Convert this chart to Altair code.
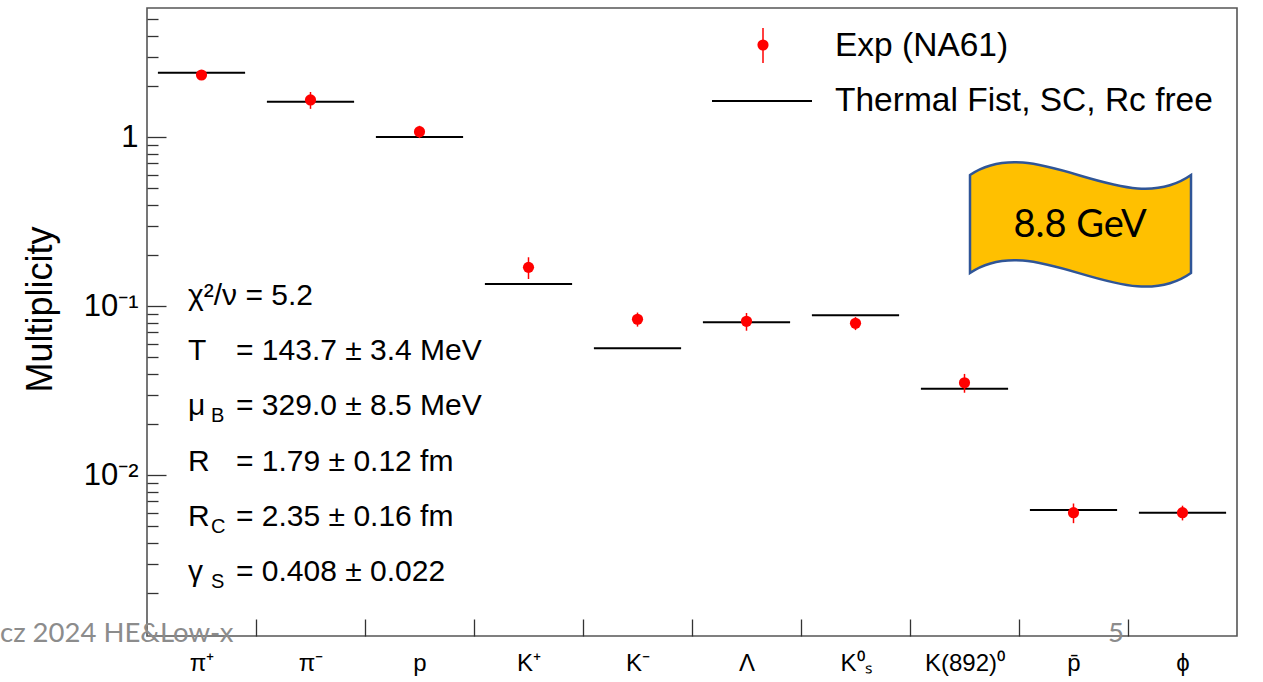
import json
import altair as alt
import pandas as pd

# Hadron multiplicities, NA61 data vs. Thermal-FIST fit (8.8 GeV)
particles = ["π⁺", "π⁻", "p", "K⁺", "K⁻", "Λ", "K⁰ₛ", "K(892)⁰", "p̄", "ϕ"]
exp_values = [2.337, 1.663, 1.079, 0.170, 0.0838, 0.0815, 0.0793, 0.0353, 0.00601, 0.00601]
exp_errors = [0.08, 0.19, 0.09, 0.025, 0.008, 0.0098, 0.007, 0.0045, 0.0008, 0.0006]
fit_values = [2.41, 1.624, 1.004, 0.1355, 0.0564, 0.0805, 0.0885, 0.0325, 0.00623, 0.00601]

legend_labels = ["Exp (NA61)", "Thermal Fist, SC, Rc free"]

stat_heads = ["χ²/ν = 5.2", "T", "μ", "R", "R", "γ"]
stat_subs = ["", "", "B", "", "C", "S"]
stat_tails = ["", "= 143.7 ± 3.4 MeV", "= 329.0 ± 8.5 MeV", "= 1.79 ± 0.12 fm",
              "= 2.35 ± 0.16 fm", "= 0.408 ± 0.022"]

y_major = [0.01, 0.1, 1]
y_minor = [round(m * 10.0 ** k, 6) for k in range(-3, 1) for m in range(2, 10)
           if 0.00112 < m * 10.0 ** k < 5.82]

W, H = 1090, 628
FONT = "Liberation Sans"

df = pd.DataFrame({
    "idx": list(range(len(particles))),
    "name": particles,
    "exp": exp_values,
    "err": exp_errors,
    "fit": fit_values,
})

x_scale = alt.Scale(domain=[0, len(particles)], nice=False, zero=False)
y_scale = alt.Scale(type="log", domain=[0.00112, 5.82], nice=False)

names_js = json.dumps(particles, ensure_ascii=False)

base = alt.Chart(df).transform_calculate(
    xc="datum.idx + 0.5",
    xl="datum.idx + 0.1",
    xh="datum.idx + 0.9",
    lo="datum.exp - datum.err",
    hi="datum.exp + datum.err",
)

# theory lines, carrying the labelled bottom / left axes
fit_lines = base.mark_rule(color="black", strokeWidth=2).encode(
    x=alt.X("xl:Q", scale=x_scale, axis=alt.Axis(
        orient="bottom", values=[i + 0.5 for i in range(len(particles))],
        labelExpr=f"{names_js}[floor(datum.value)]",
        ticks=False, domain=False, grid=False, title=None,
        labelFont=FONT, labelFontSize=24, labelColor="black", labelPadding=15)),
    x2="xh:Q",
    y=alt.Y("fit:Q", scale=y_scale, axis=alt.Axis(
        orient="left", values=y_major,
        labelExpr="datum.value >= 1 ? '1' : (datum.value >= 0.1 ? '10⁻¹' : '10⁻²')",
        ticks=False, domain=False, grid=False,
        labelFont=FONT, labelFontSize=31, labelColor="black", labelPadding=9,
        labelBaseline="middle",
        title="Multiplicity", titleFont=FONT, titleFontSize=36,
        titleFontWeight="normal", titleColor="black", titleAngle=270,
        titleX=-107, titleY=301, titleAlign="center", titleBaseline="middle")),
)

err_bars = base.mark_rule(color="red", strokeWidth=1.5).encode(
    x=alt.X("xc:Q", scale=x_scale, axis=None),
    y=alt.Y("lo:Q", scale=y_scale, axis=None),
    y2="hi:Q",
)

# data points, carrying the inward tick marks (ROOT style)
points = base.mark_circle(color="red", size=125, opacity=1).encode(
    x=alt.X("xc:Q", scale=x_scale, axis=alt.Axis(
        orient="top", offset=-H, values=list(range(1, len(particles))),
        labels=False, domain=False, grid=False, title=None,
        tickSize=17, tickColor="#333", tickWidth=1.3)),
    y=alt.Y("exp:Q", scale=y_scale, axis=alt.Axis(
        orient="right", offset=-W, values=y_major + y_minor,
        labels=False, domain=False, grid=False, title=None,
        tickColor="#333", tickWidth=1.3,
        tickSize={"condition": {"test": "indexof([0.01, 0.1, 1], datum.value) >= 0",
                                "value": 19}, "value": 11})),
)

# legend
leg_df = pd.DataFrame({"label": legend_labels, "row": [0, 1]})
leg_text = alt.Chart(leg_df).transform_calculate(
    py="38 + 55 * datum.row"
).mark_text(align="left", baseline="middle", font=FONT, fontSize=33.5,
            color="black").encode(
    x=alt.value(688), y=alt.Y("py:Q", scale=None, axis=None), text="label:N")
one = pd.DataFrame({"k": [0]})
leg_dot = alt.Chart(one).mark_circle(color="red", size=125, opacity=1).encode(
    x=alt.value(616), y=alt.value(37))
leg_bar = alt.Chart(one).mark_rule(color="red", strokeWidth=1.5).encode(
    x=alt.value(616), y=alt.value(20), y2=alt.value(55))
leg_line = alt.Chart(one).mark_rule(color="black", strokeWidth=2).encode(
    x=alt.value(565), x2=alt.value(665), y=alt.value(93))

# fit parameters
st_df = pd.DataFrame({"head": stat_heads, "sub": stat_subs, "tail": stat_tails,
                      "row": list(range(len(stat_heads)))})
st_base = alt.Chart(st_df).transform_calculate(
    py="288 + 55.2 * datum.row", pys="298 + 55.2 * datum.row")
st_head = st_base.mark_text(align="left", baseline="middle", font=FONT,
                            fontSize=30, color="black").encode(
    x=alt.value(41), y=alt.Y("py:Q", scale=None, axis=None), text="head:N")
st_sub = st_base.mark_text(align="left", baseline="middle", font=FONT,
                           fontSize=20, color="black").encode(
    x=alt.value(64), y=alt.Y("pys:Q", scale=None, axis=None), text="sub:N")
st_tail = st_base.mark_text(align="left", baseline="middle", font=FONT,
                            fontSize=30, color="black").encode(
    x=alt.value(89), y=alt.Y("py:Q", scale=None, axis=None), text="tail:N")

# energy banner
wave = ("M -1 -0.443 C -0.4 -0.85 0.4 -0.02 1 -0.443 L 1 0.443 "
        "C 0.4 0.866 -0.4 0.036 -1 0.443 Z")
banner = alt.Chart(one).mark_point(
    shape=wave, size=221 ** 2, filled=True, fill="#FFC000", fillOpacity=1,
    stroke="#2F5597", strokeWidth=2.5, opacity=1).encode(
    x=alt.value(933.5), y=alt.value(216))
banner_text = alt.Chart(pd.DataFrame({"t": ["8.8 GeV"]})).mark_text(
    font="Lato", fontSize=38, color="black", align="center", baseline="middle").encode(
    x=alt.value(933), y=alt.value(218), text="t:N")

# slide footer
foot = alt.Chart(pd.DataFrame({"t": ["cz 2024 HE&Low-x", "5"], "px": [-147, 961]})).mark_text(
    font="Lato", fontSize=27.5, color="#8c8c8c", align="left", baseline="middle").encode(
    x=alt.X("px:Q", scale=None, axis=None), y=alt.value(626), text="t:N")

chart = alt.layer(
    fit_lines, err_bars, points,
    leg_bar, leg_dot, leg_line, leg_text,
    st_head, st_sub, st_tail,
    banner, banner_text, foot,
).resolve_axis(x="independent", y="independent").properties(
    width=W, height=H,
    autosize=alt.AutoSizeParams(type="none"),
    padding={"left": 147, "top": 8, "right": 26, "bottom": 46},
    background="white",
).configure_view(stroke="#555", strokeWidth=1.6)

chart.save("out.html", embed_options={"renderer": "svg", "actions": False})
